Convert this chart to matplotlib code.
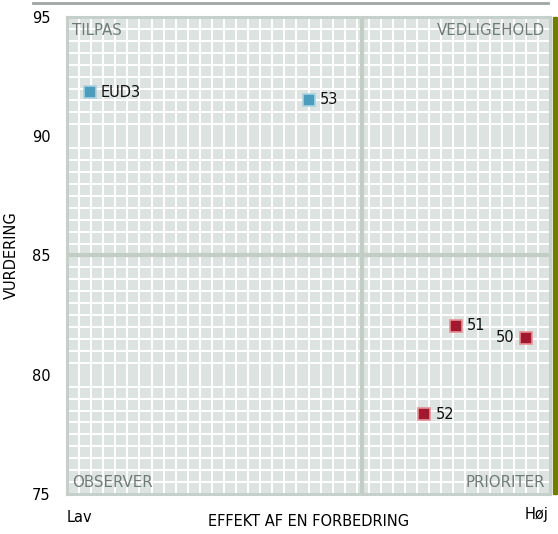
import matplotlib
matplotlib.use("Agg")
from matplotlib import pyplot as plt
from matplotlib.patches import Rectangle
from matplotlib.lines import Line2D
import numpy as np

# data
labels = ["EUD3", "53", "51", "50", "52"]
effekt = [0.19, 2.00, 3.22, 3.80, 2.96]
vurdering = [91.85, 91.52, 82.05, 81.55, 78.35]
groups = ["blue", "blue", "red", "red", "red"]
label_side = ["right", "right", "right", "left", "right"]

quadrants = ["TILPAS", "VEDLIGEHOLD", "OBSERVER", "PRIORITER"]
x_split = 2.44
y_split = 85
yticks = [75, 80, 85, 90, 95]

FILL = {"blue": "#4b9cbd", "red": "#a0192c"}
EDGE = {"blue": "#a9d2e2", "red": "#e59097"}

plt.rcParams["font.family"] = "DejaVu Sans"

fig = plt.figure(figsize=(5.58, 5.34), dpi=100)
ax = fig.add_axes([67 / 558, 40 / 534, 483 / 558, 477 / 534])

ax.set_xlim(0, 4)
ax.set_ylim(75, 95)
ax.set_facecolor("#dde3e0")
ax.set_xticks(np.arange(0, 4.01, 0.1), minor=True)
ax.set_yticks(np.arange(75, 95.01, 0.5), minor=True)
ax.grid(True, which="minor", color="white", linewidth=1.4)
ax.set_axisbelow(True)
ax.set_xticks([])
ax.set_yticks(yticks)
ax.tick_params(axis="both", which="both", length=0)
ax.tick_params(axis="y", pad=12, labelsize=10.5)
for spine in ax.spines.values():
    spine.set_color("#c6d0ca")
    spine.set_linewidth(2.2)

ax.axvline(x_split, color="#c2cdc6", linewidth=3.0, zorder=2)
ax.axhline(y_split, color="#c2cdc6", linewidth=3.0, zorder=2)

qcolor = "#6f7b76"
qsize = 10.8
ax.text(0.01, 0.988, quadrants[0], transform=ax.transAxes, ha="left", va="top", color=qcolor, fontsize=qsize)
ax.text(0.99, 0.988, quadrants[1], transform=ax.transAxes, ha="right", va="top", color=qcolor, fontsize=qsize)
ax.text(0.01, 0.008, quadrants[2], transform=ax.transAxes, ha="left", va="bottom", color=qcolor, fontsize=qsize)
ax.text(0.99, 0.008, quadrants[3], transform=ax.transAxes, ha="right", va="bottom", color=qcolor, fontsize=qsize)

for lab, x, y, g, side in zip(labels, effekt, vurdering, groups, label_side):
    ax.plot(x, y, marker="s", markersize=8.5, color=FILL[g], markeredgecolor=EDGE[g],
            markeredgewidth=1.2, zorder=4)
    if side == "right":
        ax.annotate(lab, (x, y), xytext=(8, 0), textcoords="offset points",
                    ha="left", va="center", fontsize=10.5, color="#111111")
    else:
        ax.annotate(lab, (x, y), xytext=(-8, 0), textcoords="offset points",
                    ha="right", va="center", fontsize=10.5, color="#111111")

fig.text(11 / 558, 1 - 255 / 534, "VURDERING", rotation=90, ha="center", va="center", fontsize=10.5)
ax.set_xlabel("EFFEKT AF EN FORBEDRING", fontsize=10.5, labelpad=11)

fig.text(67 / 558, 1 - 518 / 534, "Lav", ha="left", va="center", fontsize=10.5)
fig.text(548 / 558, 1 - 515 / 534, "Høj", ha="right", va="center", fontsize=10.5)

# top rule and green side bar
fig.add_artist(Line2D([33 / 558, 548 / 558], [1 - 3 / 534, 1 - 3 / 534], color="#9ea7a6", linewidth=2))
fig.add_artist(Rectangle((553 / 558, 40 / 534), 4 / 558, 477 / 534, color="#6e7f00", transform=fig.transFigure))

fig.savefig("out.png", dpi=100)
